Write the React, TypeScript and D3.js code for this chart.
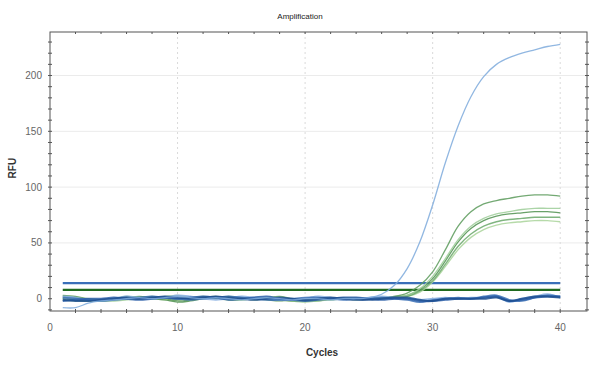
import * as d3 from 'd3';
import React from 'react';

// cycles 1..40
const cycles = d3.range(1, 41);

const xTickLabels = [0, 10, 20, 30, 40];
const yTickLabels = [0, 50, 100, 150, 200];

const thresholdBlue = 14;
const thresholdGreen = 8;

// positive blue sample
const blueSample = [
  -8, -8, -4, -2, -1, 0, 1, 0, 1, 2, 1, 0, 1, 0, -1, 0, 1, 0, -1, 0,
  0, -1, 0, 0, 1, 4, 12, 27, 51, 84, 122, 155, 181, 199, 210, 216, 220, 223, 226, 228,
];

// green samples
const green1 = [
  3, 2, 0, -1, 0, 1, 2, 1, 0, -2, -1, 1, 2, 1, 0, -1, 0, -1, -2, -1,
  0, 1, 0, -1, 0, 1, 2, 5, 12, 24, 44, 65, 78, 85, 88, 90, 92, 93, 93, 92,
];
const green2 = [
  1, 0, -1, -2, -2, -1, 0, 1, 2, 3, 1, 0, 1, 0, -1, 0, 1, 0, -2, -3,
  -2, -1, 0, 0, 1, 1, 2, 3, 9, 20, 36, 53, 65, 72, 76, 78, 80, 81, 81, 81,
];
const green3 = [
  0, -1, -2, -1, 0, 2, 1, 0, -1, -3, -2, 0, 1, 2, 1, 0, -1, -2, -1, -2,
  -2, 0, 1, 0, 0, 1, 1, 3, 8, 18, 34, 51, 63, 70, 74, 76, 77, 78, 78, 77,
];
const green4 = [
  2, 1, -1, -2, -1, 0, 1, 2, 1, 0, 1, 2, 1, -1, -1, 0, 1, 2, 0, -1,
  -1, -1, 0, 0, 0, 1, 1, 2, 7, 16, 31, 47, 58, 65, 69, 71, 72, 73, 73, 73,
];
const green5 = [
  -1, -2, -2, -1, 0, 1, 1, 0, -1, -1, 0, 1, 0, -1, 0, 1, 1, -1, -2, -2,
  -1, 0, 0, 1, 0, 0, 1, 2, 6, 15, 29, 44, 55, 62, 66, 68, 69, 70, 70, 69,
];

// negative (flat) blue wells
const neg1 = [
  -1, -2, -2, -1, 0, 1, 0, 1, 2, 1, 0, 1, 2, 1, 0, -1, 0, 1, 0, -1,
  0, 1, 0, -1, -1, 0, 1, 1, -1, -2, 0, 0, 0, 0, 1, -2, 0, 2, 2, 1,
];
const neg2 = [
  1, 0, -1, -2, -1, 0, 1, 2, 1, 0, -1, 0, 1, 2, 1, 0, -1, -1, 0, 1,
  1, 0, -1, 0, 0, 1, 0, -1, -3, -1, 0, 1, 0, 2, 3, -1, -2, 1, 3, 2,
];
const neg3 = [
  2, 1, -1, -1, 0, 2, 1, 0, 1, 3, 2, 0, -1, 0, 2, 1, 0, -1, -1, 0,
  2, 1, 0, 0, 1, 2, 1, 0, -1, 0, 1, 0, 1, 1, 2, -3, 0, 2, 4, 1,
];
const neg4 = [
  -2, -1, 0, 0, 1, 0, -1, 0, 1, 0, 1, 2, 1, -1, 0, 1, 2, 0, -1, -2,
  -1, 0, 1, 1, 0, -1, 0, 0, -2, -2, -1, 0, 0, 1, 2, -2, -1, 1, 2, 2,
];

const series = [
  { values: green5, color: '#a9d39a', width: 1.4 },
  { values: green4, color: '#6aa86a', width: 1.4 },
  { values: green3, color: '#4f914f', width: 1.3 },
  { values: green2, color: '#9ccc98', width: 1.4 },
  { values: green1, color: '#5a9a5a', width: 1.3 },
  { values: neg3, color: '#86aee0', width: 1.8 },
  { values: neg2, color: '#3b70b5', width: 1.8 },
  { values: neg4, color: '#2a5ea8', width: 2 },
  { values: neg1, color: '#1d4f91', width: 2 },
  { values: blueSample, color: '#7eaadc', width: 1.3 },
];

const W = 600;
const H = 371;
const margin = { top: 32, right: 13, bottom: 60, left: 50 };

export default function App() {
  const x = d3.scaleLinear().domain([0, 42.1]).range([margin.left, W - margin.right]);
  const y = d3.scaleLinear().domain([-11, 239]).range([H - margin.bottom, margin.top]);
  const x0 = x.range()[0];
  const x1 = x.range()[1];
  const yb = y.range()[0];
  const yt = y.range()[1];

  const line = d3
    .line<number>()
    .x((_, i) => x(cycles[i]))
    .y((d) => y(d))
    .curve(d3.curveCatmullRom.alpha(0.5));

  const xMinor = d3.range(2, 42, 2);
  const yMinor = d3.range(-10, 240, 10);
  const tickColor = '#555';

  return (
    <svg
      width={W}
      height={H}
      style={{ position: 'absolute', left: 0, top: 0, background: '#fff' }}
      fontFamily="'Liberation Sans', Arial, sans-serif"
    >
      {/* grid */}
      {yTickLabels.slice(1).map((v) => (
        <line key={'gy' + v} x1={x0} x2={x1} y1={y(v)} y2={y(v)} stroke="#ebebeb" strokeWidth={1} />
      ))}
      {xTickLabels.slice(1).map((v) => (
        <line key={'gx' + v} x1={x(v)} x2={x(v)} y1={yt} y2={yb} stroke="#dadada" strokeWidth={1} strokeDasharray="2,3" />
      ))}

      {/* threshold lines */}
      <line x1={x(1)} x2={x(40)} y1={y(thresholdBlue)} y2={y(thresholdBlue)} stroke="#3a6fb8" strokeWidth={2.2} />
      <line x1={x(1)} x2={x(40)} y1={y(thresholdGreen)} y2={y(thresholdGreen)} stroke="#1f6a1f" strokeWidth={2.2} />

      {/* curves */}
      {series.map((s, i) => (
        <path key={i} d={line(s.values) || ''} fill="none" stroke={s.color} strokeWidth={s.width} strokeOpacity={0.85} />
      ))}

      {/* frame */}
      <rect x={x0} y={yt} width={x1 - x0} height={yb - yt} fill="none" stroke={tickColor} strokeWidth={1} />

      {/* x ticks bottom and top */}
      {xMinor.map((v) => (
        <g key={'xt' + v}>
          <line x1={x(v)} x2={x(v)} y1={yb - 2} y2={yb + 2} stroke={tickColor} />
          <line x1={x(v)} x2={x(v)} y1={yt} y2={yt + 2} stroke={tickColor} />
        </g>
      ))}
      {/* y ticks left and right */}
      {yMinor.map((v) => (
        <g key={'yt' + v}>
          <line x1={x0 - 2} x2={x0 + 2} y1={y(v)} y2={y(v)} stroke={tickColor} />
          <line x1={x1 - 2} x2={x1 + 2} y1={y(v)} y2={y(v)} stroke={tickColor} />
        </g>
      ))}

      {/* tick labels */}
      {xTickLabels.map((v) => (
        <text key={'xl' + v} x={x(v)} y={yb + 20} textAnchor="middle" fontSize={10} fill="#666">
          {v}
        </text>
      ))}
      {yTickLabels.map((v) => (
        <text key={'yl' + v} x={x0 - 8} y={y(v)} dy="0.35em" textAnchor="end" fontSize={10} fill="#666">
          {v}
        </text>
      ))}

      {/* titles */}
      <text x={300} y={19} textAnchor="middle" fontSize={8} fill="#222">
        Amplification
      </text>
      <text x={322} y={356} textAnchor="middle" fontSize={10} fontWeight="bold" fill="#333">
        Cycles
      </text>
      <text transform={`translate(16, ${y(117)}) rotate(-90)`} textAnchor="middle" fontSize={10} fontWeight="bold" fill="#333">
        RFU
      </text>
    </svg>
  );
}
